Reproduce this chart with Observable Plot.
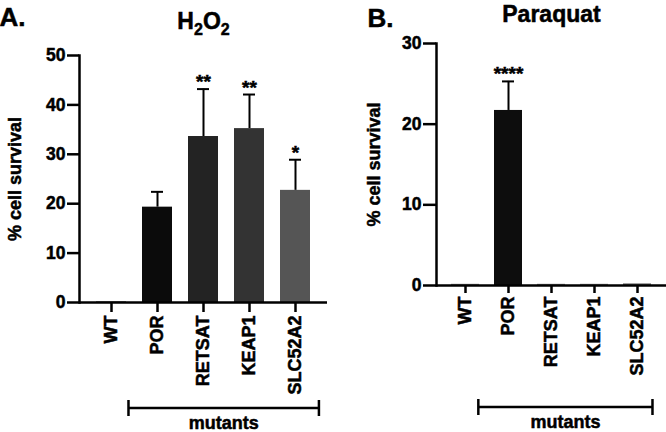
<!DOCTYPE html>
<html><head><meta charset="utf-8">
<script src="https://cdn.jsdelivr.net/npm/d3@7"></script>
<script src="https://cdn.jsdelivr.net/npm/@observablehq/plot@0.6"></script>
<style>
body{margin:0;background:#fff;}
#wrap{position:relative;width:666px;height:432px;display:flex;overflow:hidden;}
#wrap svg{font-family:"Liberation Sans",Arial,Helvetica,sans-serif;font-weight:bold;overflow:visible;}
#wrap svg text{stroke:#000;stroke-width:0.5px;}
</style></head><body><div id="wrap"></div>
<script>
const categories = ["WT", "POR", "RETSAT", "KEAP1", "SLC52A2"];
const mutants = ["POR", "RETSAT", "KEAP1", "SLC52A2"];
const h2o2Values = [0.2, 19.3, 33.6, 35.2, 22.7];
const h2o2Errors = [0, 3.1, 9.6, 6.9, 6.2];
const h2o2Stars = ["", "", "**", "**", "*"];
const h2o2Colors = ["#8a8a8a", "#0b0b0b", "#232323", "#333333", "#555555"];
const h2o2Ticks = [0, 10, 20, 30, 40, 50];
const paraquatValues = [0.15, 21.7, 0.15, 0.15, 0.2];
const paraquatErrors = [0, 3.6, 0, 0, 0];
const paraquatStars = ["", "****", "", "", ""];
const paraquatColors = ["#8a8a8a", "#0d0d0d", "#8a8a8a", "#8a8a8a", "#6a6a6a"];
const paraquatTicks = [0, 10, 20, 30];
const panelLetters = ["A.", "B."];
const panelTitles = ["H\u2082O\u2082", "Paraquat"];
const yLabel = "% cell survival";
const groupLabel = "mutants";

function panel(o) {
  const rows = categories.map((c, i) => ({
    cat: c, v: o.values[i], e: o.errors[i], s: o.stars[i], col: o.colors[i]
  }));
  const errRows = rows.filter(d => d.e > 0);
  const starRows = rows.filter(d => d.s);
  const plot = Plot.plot({
    width: o.width, height: 432,
    marginLeft: o.ml, marginRight: o.mr, marginTop: o.mt, marginBottom: o.mb,
    style: {fontSize: "17px", fontWeight: "bold", color: "#000", background: "transparent"},
    color: {type: "identity"},
    x: {domain: categories, paddingInner: 0.35, paddingOuter: 0.34, axis: null},
    y: {domain: o.domain, axis: null},
    marks: [
      Plot.barY(rows, {x: "cat", y: "v", fill: "col"}),
      Plot.ruleX(errRows, {x: "cat", y1: "v", y2: d => d.v + d.e, stroke: "#000", strokeWidth: 2}),
      Plot.tickY(errRows, {x: "cat", y: d => d.v + d.e, stroke: "#000", strokeWidth: 2, insetLeft: o.cap, insetRight: o.cap}),
      Plot.text(starRows, {x: "cat", y: d => d.v + d.e, text: "s", lineAnchor: "bottom", dy: -1, fontSize: 19, fontWeight: "bold"}),
      Plot.axisY({ticks: o.ticks, tickSize: o.yTick, tickPadding: 2, strokeWidth: 2.5, fontSize: 17.5, className: "yax",
        label: yLabel, labelAnchor: "center", labelArrow: false, labelOffset: o.labelOffset}),
      Plot.axisX({tickRotate: -90, tickSize: o.xTick, tickPadding: 3, strokeWidth: 2.5, fontSize: 18, className: "xax", label: null}),
      Plot.frame({anchor: "left", strokeWidth: 2.5}),
      Plot.ruleY([0], {strokeWidth: 2.5}),
      Plot.text([o.title], {frameAnchor: "top", lineAnchor: "bottom", dy: o.titleDy, fontSize: 23, fontWeight: "bold", className: "ptitle"}),
      Plot.text([o.letter], {frameAnchor: "top-left", textAnchor: "start", lineAnchor: "bottom", dx: o.letterDx, dy: o.letterDy, fontSize: 26, fontWeight: "bold"})
    ]
  });
  const svg = d3.select(plot);
  // enforce axis text sizes
  svg.selectAll('[aria-label="x-axis tick label"] text').style("font-size", "18px").style("font-weight", "bold");
  svg.selectAll('[aria-label="y-axis tick label"] text').style("font-size", "17.5px").style("font-weight", "bold");
  svg.selectAll('[aria-label="y-axis label"] text').style("font-size", "18px").style("font-weight", "bold");
  // real subscripts for the chemical formula
  if (o.title.includes("\u2082")) {
    svg.selectAll(".ptitle text").each(function () {
      const t = d3.select(this);
      const s = t.text();
      t.text("");
      let sub = false;
      for (const ch of s) {
        if (ch === "\u2082") {
          t.append("tspan").attr("font-size", 16).attr("dy", 6).text("2");
          sub = true;
        } else {
          const sp = t.append("tspan").text(ch);
          if (sub) { sp.attr("dy", -6); sub = false; }
        }
      }
    });
  }
  // mutants bracket, positioned with the plot's own x scale
  const xs = plot.scale("x");
  const step = xs.step !== undefined ? xs.step : xs.bandwidth / (1 - 0.35);
  const bw = xs.bandwidth;
  const center = c => xs.apply(c) + bw / 2;
  const x1 = center(mutants[0]) - o.bracketL * step;
  const x2 = center(mutants[mutants.length - 1]) + o.bracketR * step;
  const yb = 432 - o.bracketFromBottom;
  const g = svg.append("g").attr("stroke", "#000").attr("stroke-width", 2.5);
  g.append("line").attr("x1", x1).attr("x2", x2).attr("y1", yb).attr("y2", yb);
  g.append("line").attr("x1", x1).attr("x2", x1).attr("y1", yb - 8).attr("y2", yb + 8);
  g.append("line").attr("x1", x2).attr("x2", x2).attr("y1", yb - 8).attr("y2", yb + 8);
  svg.append("text").attr("x", (x1 + x2) / 2).attr("y", yb + 21).attr("text-anchor", "middle")
    .attr("font-size", 18).attr("font-weight", "bold").attr("fill", "#000").text(groupLabel);
  return plot;
}

const wrap = document.getElementById("wrap");
wrap.appendChild(panel({
  width: 340, ml: 79, mr: 13, mt: 55, mb: 130, domain: [0, 50], ticks: h2o2Ticks,
  values: h2o2Values, errors: h2o2Errors, stars: h2o2Stars, colors: h2o2Colors,
  cap: 9, yTick: 12, xTick: 10, labelOffset: 71, title: panelTitles[0], titleDy: -27,
  letter: panelLetters[0], letterDx: -80, letterDy: -30,
  bracketL: 0.62, bracketR: 0.52, bracketFromBottom: 24
}));
wrap.appendChild(panel({
  width: 326, ml: 96, mr: 0, mt: 43, mb: 147, domain: [0, 30], ticks: paraquatTicks,
  values: paraquatValues, errors: paraquatErrors, stars: paraquatStars, colors: paraquatColors,
  cap: 8, yTick: 13, xTick: 8, labelOffset: 69, title: panelTitles[1], titleDy: -22,
  letter: panelLetters[1], letterDx: -69, letterDy: -17,
  bracketL: 0.69, bracketR: 0.36, bracketFromBottom: 25
}));
</script></body></html>
